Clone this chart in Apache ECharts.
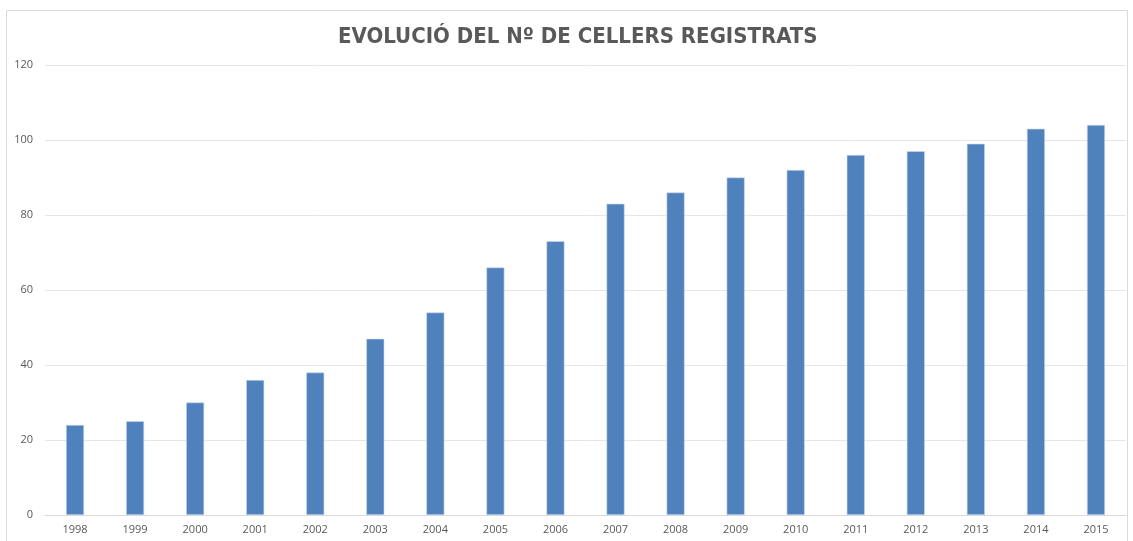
<!DOCTYPE html>
<html lang="ca">
<head>
    <meta charset="UTF-8">
    <title>Evolució del nº de cellers registrats</title>
    <script src="https://cdn.jsdelivr.net/npm/echarts@6/dist/echarts.min.js"></script>
    <style>
        html, body { margin: 0; padding: 0; background: #fff; }
        #chart { width: 1133px; height: 541px; }
    </style>
</head>
<body>
<div id="chart"></div>
<script type="text/javascript">
    var anys = ['1998', '1999', '2000', '2001', '2002', '2003', '2004', '2005', '2006',
                '2007', '2008', '2009', '2010', '2011', '2012', '2013', '2014', '2015'];
    var cellers = [24, 25, 30, 36, 38, 47, 54, 66, 73, 83, 86, 90, 92, 96, 97, 99, 103, 104];

    var myChart = echarts.init(document.getElementById('chart'));

    var option = {
        animation: false,
        backgroundColor: '#fff',
        title: {
            text: 'EVOLUCIÓ DEL Nº DE CELLERS REGISTRATS',
            left: 333,
            top: 21,
            textStyle: {
                fontFamily: '"DejaVu Sans Condensed", "Open Sans", sans-serif',
                fontWeight: 'bold',
                fontSize: 22,
                color: '#595959'
            }
        },
        graphic: [{
            type: 'rect',
            shape: { x: 6.5, y: 10.5, width: 1121, height: 540 },
            style: { fill: 'none', stroke: '#d9d9d9', lineWidth: 1 },
            silent: true
        }],
        grid: { left: 45, right: 7, top: 65, bottom: 26 },
        xAxis: {
            type: 'category',
            data: anys,
            axisLine: { lineStyle: { color: '#d9d9d9' } },
            axisTick: { show: false },
            axisLabel: { color: '#595959', fontSize: 11, fontFamily: 'Open Sans', margin: 9 }
        },
        yAxis: {
            type: 'value',
            min: 0,
            max: 120,
            interval: 20,
            axisLine: { show: false },
            axisTick: { show: false },
            splitLine: { lineStyle: { color: '#e6e6e6' } },
            axisLabel: { color: '#595959', fontSize: 11, fontFamily: 'Open Sans', margin: 12 }
        },
        series: [{
            name: 'Cellers',
            type: 'bar',
            data: cellers,
            barWidth: 18,
            itemStyle: { color: '#4F81BD', borderColor: '#c9d8ec', borderWidth: 0.6 }
        }]
    };

    myChart.setOption(option);
</script>
</body>
</html>
